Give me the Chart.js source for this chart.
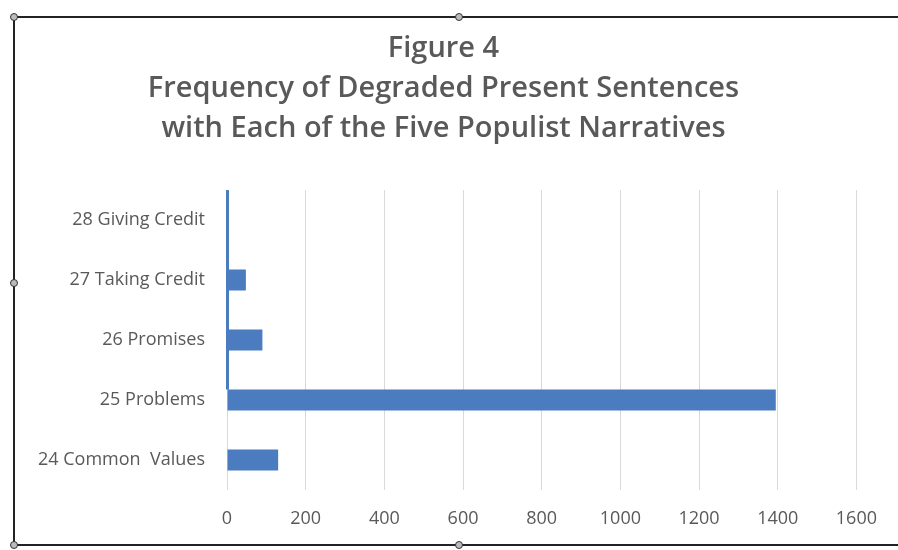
<!DOCTYPE html>
<html>
<head>
<meta charset="utf-8">
<script src="https://cdn.jsdelivr.net/npm/chart.js@4.4.0/dist/chart.umd.min.js"></script>
<style>
  html, body { margin: 0; padding: 0; background: #fff; }
  body { width: 898px; height: 550px; position: relative; overflow: hidden; }
  #frame { position: absolute; left: 13px; top: 16px; width: 900px; height: 530px;
           border-top: 2px solid #222; border-left: 2px solid #222; border-bottom: 2px solid #222; box-sizing: border-box; }
  .h { position: absolute; width: 8px; height: 8px; margin: -4px 0 0 -4px; border-radius: 50%;
       background: #bbb; border: 1px solid #333; box-sizing: border-box; }
  #wrap { position: absolute; left: 24px; top: 0; width: 871px; height: 550px; }
</style>
</head>
<body>
<div id="frame"></div>
<div class="h" style="left:14px;top:17px"></div>
<div class="h" style="left:459px;top:17px"></div>
<div class="h" style="left:14px;top:283px"></div>
<div class="h" style="left:14px;top:545px"></div>
<div class="h" style="left:459px;top:545px"></div>
<div id="wrap"><canvas id="mychart"></canvas></div>
<script>
// categories top to bottom, as in the figure
let categories = ['28 Giving Credit', '27 Taking Credit', '26 Promises', '25 Problems', '24 Common  Values'];
let frequency = [3, 48, 90, 1395, 130];
let titleLines = ['Figure 4', 'Frequency of Degraded Present Sentences', 'with Each of the Five Populist Narratives'];
let xMax = 1600;
let xStep = 200;

// the thin blue stripe along the zero line, down to the Problems bar
const zeroStripe = {
    id: 'zeroStripe',
    afterDatasetsDraw(chart) {
        let bars = chart.getDatasetMeta(0).data;
        let x0 = chart.scales.x.getPixelForValue(0);
        let ctx = chart.ctx;
        ctx.save();
        ctx.fillStyle = '#4a7cbf';
        ctx.fillRect(x0 - 1, chart.chartArea.top, 3, bars[3].y - bars[3].height / 2 - chart.chartArea.top);
        ctx.restore();
    }
};

var ctx = document.getElementById('mychart').getContext('2d');
var chart = new Chart(ctx, {
    type: 'bar',
    data: {
        labels: categories,
        datasets: [{
            data: frequency,
            backgroundColor: '#4a7cbf',
            categoryPercentage: 0.7,
            barPercentage: 0.5
        }]
    },
    options: {
        indexAxis: 'y',
        responsive: true,
        maintainAspectRatio: false,
        animation: false,
        layout: { padding: { left: 0, right: 32, top: 0, bottom: 0 } },
        plugins: {
            legend: { display: false },
            tooltip: { enabled: false },
            title: {
                display: true,
                text: titleLines,
                color: '#595959',
                font: { family: 'Open Sans', size: 29, weight: '600', lineHeight: 1.38 },
                padding: { top: 29, bottom: 41 }
            }
        },
        scales: {
            x: {
                min: 0,
                max: xMax,
                ticks: {
                    stepSize: xStep, color: '#595959', font: { family: 'Open Sans', size: 18 }, padding: 18,
                    callback: function (v) { return String(v); }
                },
                grid: { color: '#d9d9d9', drawTicks: false },
                border: { display: false },
                afterFit: function (s) { s.height = 60; }
            },
            y: {
                ticks: { color: '#595959', font: { family: 'Open Sans', size: 18 }, padding: 22 },
                grid: { display: false, drawTicks: false },
                border: { display: false },
                afterFit: function (s) { s.width = 203; }
            }
        }
    },
    plugins: [zeroStripe]
});
</script>
</body>
</html>
